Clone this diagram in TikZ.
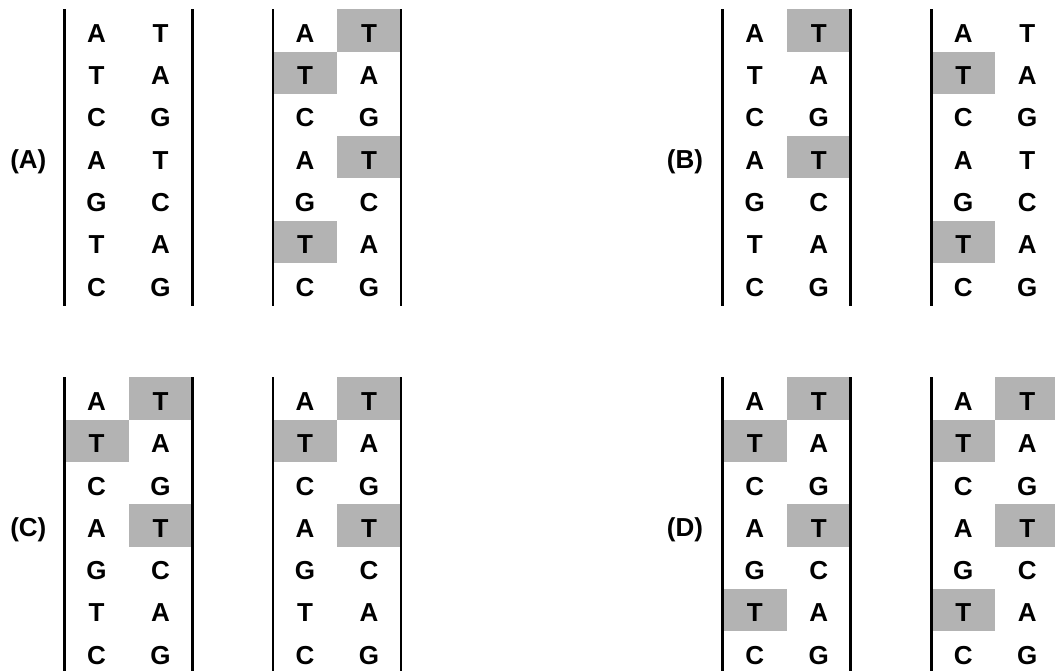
\documentclass[tikz,border=0pt]{standalone}
\usepackage{fontspec}
\setmainfont{Liberation Sans}
\definecolor{shade}{RGB}{179,179,179}
\newcommand\dnaladder[3]{% #1 name, #2 left x, #3 top y
  \foreach \l [count=\i] in {A,T,C,A,G,T,C}
    \node[base] (#1L\i) at ({#2+32},{#3+(\i-0.5)*42.3+3}) {\l};
  \foreach \l [count=\i] in {T,A,G,T,C,A,G}
    \node[base] (#1R\i) at ({#2+96},{#3+(\i-0.5)*42.3+3}) {\l};
  \coordinate (#1lt) at (#2,#3);
  \coordinate (#1lb) at (#2,{#3+296.5});
  \coordinate (#1rt) at ({#2+128},#3);
  \coordinate (#1rb) at ({#2+128},{#3+296.5});
  \draw[strand] (#1lt) -- (#1lb);
  \draw[strand] (#1rt) -- (#1rb);
}
\newcommand\hlbox[4]{% left x, top y, column, row
  \fill[hl] ({#1+(#3-1)*64},{#2+(#4-1)*42.3}) rectangle ++(64,42.3);
}
\begin{document}
\begin{tikzpicture}[x=1pt,y=-1pt,
  strand/.style={line width=2.6pt, black},
  hl/.style={fill=shade, draw=none},
  base/.style={font=\fontsize{26}{26}\selectfont\bfseries, inner sep=0pt, anchor=center},
  lbl/.style={font=\fontsize{26}{26}\selectfont\bfseries, inner sep=0pt, anchor=center}]
\useasboundingbox (0,0) rectangle (1055,671);
\clip (0,0) rectangle (1055,671);
% shading (A)
\hlbox{273}{9.3}{2}{1}
\hlbox{273}{9.3}{1}{2}
\hlbox{273}{9.3}{2}{4}
\hlbox{273}{9.3}{1}{6}
% shading (B)
\hlbox{722.7}{9.3}{2}{1}
\hlbox{722.7}{9.3}{2}{4}
\hlbox{931.2}{9.3}{1}{2}
\hlbox{931.2}{9.3}{1}{6}
% shading (C)
\hlbox{64.5}{377.3}{2}{1}
\hlbox{64.5}{377.3}{1}{2}
\hlbox{64.5}{377.3}{2}{4}
\hlbox{273}{377.3}{2}{1}
\hlbox{273}{377.3}{1}{2}
\hlbox{273}{377.3}{2}{4}
% shading (D)
\hlbox{722.7}{377.3}{2}{1}
\hlbox{722.7}{377.3}{1}{2}
\hlbox{722.7}{377.3}{2}{4}
\hlbox{722.7}{377.3}{1}{6}
\hlbox{931.2}{377.3}{2}{1}
\hlbox{931.2}{377.3}{1}{2}
\hlbox{931.2}{377.3}{2}{4}
\hlbox{931.2}{377.3}{1}{6}
% ladders
\dnaladder{a1}{64.5}{9.3}
\dnaladder{a2}{273}{9.3}
\dnaladder{b1}{722.7}{9.3}
\dnaladder{b2}{931.2}{9.3}
\dnaladder{c1}{64.5}{377.3}
\dnaladder{c2}{273}{377.3}
\dnaladder{d1}{722.7}{377.3}
\dnaladder{d2}{931.2}{377.3}
% labels
\node[lbl] (labA) at (28.3,161.5) {(A)};
\node[lbl] (labB) at (685,161.5) {(B)};
\node[lbl] (labC) at (28.3,529.5) {(C)};
\node[lbl] (labD) at (685,529.5) {(D)};
\end{tikzpicture}
\end{document}
